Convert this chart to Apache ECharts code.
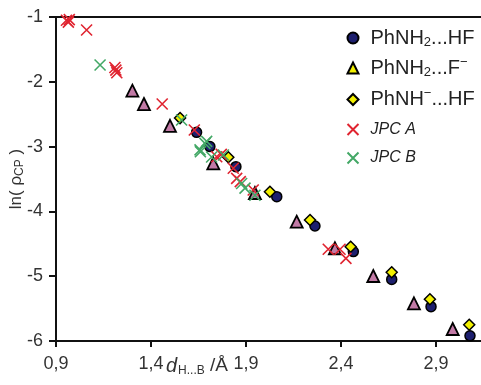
<!DOCTYPE html>
<html>
<head>
<meta charset="utf-8">
<script src="https://cdn.jsdelivr.net/npm/echarts@6/dist/echarts.min.js"></script>
<style>
  html, body { margin: 0; padding: 0; background: #fff; }
  #chart { width: 481px; height: 385px; }
</style>
</head>
<body>
<div id="chart"></div>
<script>
// x = d(H...B) in Å, y = ln(rho_CP)
const phnh2HF = [[1.64, -2.78], [1.71, -3.0], [1.847, -3.31], [2.062, -3.773], [2.263, -4.225],
  [2.465, -4.62], [2.667, -5.05], [2.874, -5.47], [3.079, -5.92]];
const phnh2F = [[1.302, -2.137], [1.363, -2.343], [1.50, -2.68], [1.728, -3.258], [1.947, -3.716],
  [2.167, -4.159], [2.368, -4.569], [2.570, -4.997], [2.784, -5.418], [2.988, -5.815]];
const phnhHF = [[1.553, -2.56], [1.807, -3.165], [2.026, -3.696], [2.237, -4.133], [2.451, -4.545],
  [2.667, -4.94], [2.868, -5.356], [3.075, -5.75]];
const jpcA = [[0.955, -1.05], [0.965, -1.08], [0.97, -1.04], [1.061, -1.20], [1.21, -1.78], [1.215, -1.82],
  [1.22, -1.86], [1.459, -2.343], [1.628, -2.744], [1.746, -3.156], [1.77, -3.12], [1.833, -3.335],
  [1.851, -3.49], [1.87, -3.54], [1.938, -3.67], [2.333, -4.585], [2.395, -4.585], [2.426, -4.724]];
const jpcB = [[1.132, -1.74], [1.561, -2.59], [1.658, -3.05], [1.684, -2.95], [1.693, -2.92], [1.66, -3.08],
  [1.719, -3.16], [1.781, -3.13], [1.877, -3.57], [1.895, -3.64], [1.947, -3.75]];
const xTicks = [0.9, 1.4, 1.9, 2.4, 2.9];
const yTicks = [-6, -5, -4, -3, -2, -1];

// ticks are counted from 0 so the x axis is shifted by its first tick
const X0 = xTicks[0];
const shift = (arr) => arr.map((p) => [p[0] - X0, p[1]]);
const cross = 'path://M0,0L10,10M10,0L0,10';
const fmtComma = (v) => (v + X0).toFixed(1).replace('.', ',');

const chart = echarts.init(document.getElementById('chart'));
chart.setOption({
  animation: false,
  grid: { left: 56, right: 0, top: 17, bottom: 44, containLabel: false, outerBoundsMode: 'none' },
  xAxis: [
    {
      type: 'value', min: 0, max: 2.237, interval: 0.5,
      axisLine: { lineStyle: { color: '#111', width: 2 } },
      axisTick: { show: true, inside: false, length: 6, lineStyle: { color: '#111', width: 2 } },
      axisLabel: { color: '#333', fontSize: 18, fontFamily: 'Liberation Sans', margin: 14, formatter: fmtComma,
        showMaxLabel: false },
      splitLine: { show: false },
    },
    {
      type: 'value', position: 'top', min: 0, max: 2.237,
      axisLine: { show: true, lineStyle: { color: '#111', width: 2 } },
      axisTick: { show: false }, axisLabel: { show: false }, splitLine: { show: false },
    },
  ],
  yAxis: {
    type: 'value', min: yTicks[0], max: yTicks[yTicks.length - 1], interval: 1,
    axisLine: { show: true, lineStyle: { color: '#111', width: 2 } },
    axisTick: { show: true, length: 7, lineStyle: { color: '#111', width: 2 } },
    axisLabel: { color: '#333', fontSize: 18, fontFamily: 'Liberation Sans', margin: 13 },
    splitLine: { show: false },
    name: '{a|ln( }{a|ρ}{s|CP}{a| )}',
    nameLocation: 'middle', nameRotate: 90, nameGap: 30, nameMoveOverlap: false,
    nameTextStyle: {
      rich: {
        a: { fontSize: 17, color: '#333', fontFamily: 'Liberation Sans' },
        s: { fontSize: 12, color: '#333', fontFamily: 'Liberation Sans', padding: [8, 0, 0, 0] },
      },
    },
  },
  legend: {
    orient: 'vertical', left: 340, top: 22,
    itemWidth: 11, itemHeight: 11, itemGap: 6.5,
    textStyle: {
      fontSize: 20, color: '#222', fontFamily: 'Liberation Sans', lineHeight: 22, padding: [0, 0, 0, 7],
      rich: {
        a: { fontSize: 20, color: '#222', fontFamily: 'Liberation Sans', lineHeight: 22 },
        s: { fontSize: 13, color: '#222', fontFamily: 'Liberation Sans', lineHeight: 22, padding: [9, 0, 0, 0] },
        p: { fontSize: 13, color: '#222', fontFamily: 'Liberation Sans', lineHeight: 22, padding: [0, 0, 12, 0] },
        i: { fontSize: 16, color: '#222', fontFamily: 'Liberation Sans', fontStyle: 'italic', lineHeight: 22 },
      },
    },
    formatter: (name) => ({
      'PhNH2...HF': '{a|PhNH}{s|2}{a|...HF}',
      'PhNH2...F-': '{a|PhNH}{s|2}{a|...F}{p|−}',
      'PhNH-...HF': '{a|PhNH}{p|−}{a|...HF}',
      'JPC A': '{i|JPC A}',
      'JPC B': '{i|JPC B}',
    }[name]),
    data: [
      'PhNH2...HF',
      { name: 'PhNH2...F-', itemStyle: { color: '#f2f000' } },
      'PhNH-...HF', 'JPC A', 'JPC B',
    ],
  },
  graphic: [{
    type: 'text', left: 166, top: 356,
    style: {
      text: '{d|d}{s|H...B}{a| /Å}',
      rich: {
        d: { fontSize: 20, fontStyle: 'italic', fill: '#333', fontFamily: 'Liberation Sans' },
        s: { fontSize: 12, fill: '#333', fontFamily: 'Liberation Sans', padding: [10, 0, 0, 1] },
        a: { fontSize: 19, fill: '#333', fontFamily: 'Liberation Sans' },
      },
    },
  }],
  series: [
    {
      name: 'PhNH2...HF', type: 'scatter', data: shift(phnh2HF), symbol: 'circle', symbolSize: 10,
      itemStyle: { color: '#1d1f6e', borderColor: '#000', borderWidth: 1.5, opacity: 1 },
    },
    {
      name: 'PhNH2...F-', type: 'scatter', data: shift(phnh2F), symbol: 'triangle', symbolSize: 12,
      itemStyle: { color: '#c27aa6', borderColor: '#000', borderWidth: 1.8, opacity: 1 },
    },
    {
      name: 'PhNH-...HF', type: 'scatter', data: shift(phnhHF), symbol: 'diamond', symbolSize: 11,
      itemStyle: { color: '#f2f000', borderColor: '#000', borderWidth: 1.5, opacity: 1 },
    },
    {
      name: 'JPC A', type: 'scatter', data: shift(jpcA), symbol: cross, symbolSize: 11, symbolKeepAspect: true,
      itemStyle: { color: 'none', borderColor: '#e02430', borderWidth: 1.6, opacity: 1 },
    },
    {
      name: 'JPC B', type: 'scatter', data: shift(jpcB), symbol: cross, symbolSize: 11, symbolKeepAspect: true,
      itemStyle: { color: 'none', borderColor: '#43a866', borderWidth: 1.6, opacity: 1 },
    },
  ],
});
</script>
</body>
</html>
